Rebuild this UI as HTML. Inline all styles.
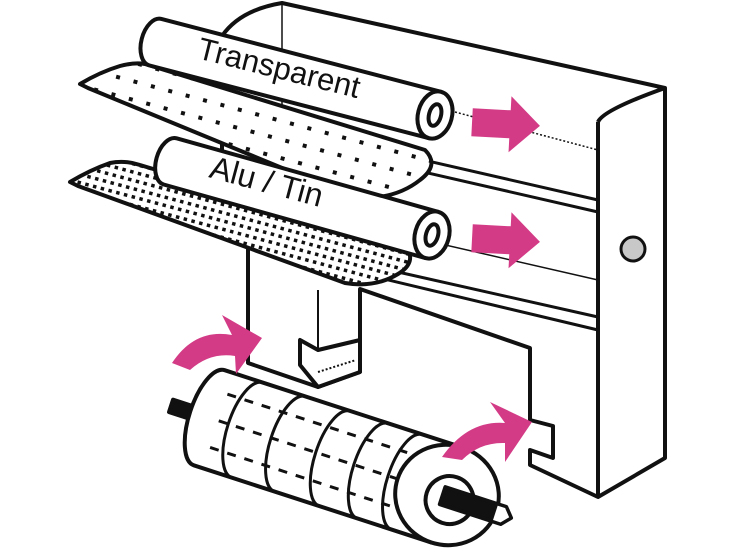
<!DOCTYPE html>
<html><head><style>html,body{margin:0;padding:0;background:#fff}svg{display:block}</style></head>
<body>
<svg width="736" height="552" viewBox="0 0 736 552" xmlns="http://www.w3.org/2000/svg">
<defs>
<pattern id="sp" width="18" height="18" patternUnits="userSpaceOnUse" patternTransform="rotate(15)"><rect width="18" height="18" fill="#fff"/><rect x="6" y="6" width="4" height="4" fill="#111"/></pattern>
<pattern id="dn" width="8" height="8" patternUnits="userSpaceOnUse" patternTransform="rotate(15)"><rect width="8" height="8" fill="#fff"/><rect x="2" y="2" width="3.5" height="3.5" fill="#111"/></pattern>
</defs>
<g fill="#fff" stroke="#111" stroke-width="4" stroke-linejoin="round">
<path d="M222,36 Q240,10 282,3 L665,88 L665,458 L598,497 L530,465 L530,450 L553,458 L553,426 L530,420 L530,348 L360,289 L360,372 L318,387 L248,363 L248,240 L222,230 Z"/>
<path d="M598,122 Q603,110 665,88" fill="none"/>
<line x1="598" y1="122" x2="598" y2="497"/>
<line x1="282" y1="3" x2="282" y2="240" stroke-width="1.5"/>
<path d="M380,150 L598,200 M380,162 L598,212" fill="none" stroke-width="3"/>
<path d="M380,268 L598,317 M380,278 L598,330" fill="none" stroke-width="3"/>
<path d="M380,230 L598,280" fill="none" stroke-width="1.5"/>
<path d="M455,112 L598,150" fill="none" stroke-width="1.5" stroke-dasharray="2,2"/>
<path d="M300,340 L300,365 L318,387 L360,372 L360,340 L318,350 Z"/>
<line x1="318" y1="372" x2="356" y2="360" stroke-width="2" stroke-dasharray="2,2"/>
<line x1="318" y1="290" x2="318" y2="350" stroke-width="2"/>
<path d="M80,84 Q100,72 120,66 Q135,62 145,64 L425,150 Q440,165 420,180 Q395,200 355,198 L88,88 Z" fill="url(#sp)"/>
<g transform="translate(435,115) rotate(14.6)">
<path d="M0,-24 L-289,-24 A14,24 0 0 0 -289,24 L0,24 Z" fill="#fff"/>
<ellipse cx="0" cy="0" rx="17" ry="24"/>
<ellipse cx="0" cy="0" rx="6" ry="11"/>
</g>
<path d="M70,182 Q90,170 110,163 Q125,160 140,165 L405,245 Q418,262 398,274 Q375,288 345,283 L78,186 Z" fill="url(#dn)"/>
<g transform="translate(432,235) rotate(15.7)">
<path d="M0,-24 L-272,-24 A14,24 0 0 0 -272,24 L0,24" fill="#fff"/>
<ellipse cx="0" cy="0" rx="17" ry="24"/>
<ellipse cx="0" cy="0" rx="6" ry="11"/>
</g>
<g transform="translate(447,495) rotate(18)">
<rect x="-290" y="-6" width="60" height="13" fill="#111"/>
<path d="M0,-50 L-250,-50 A20,50 0 0 0 -250,50 L0,50" fill="#fff"/>
<path d="M-210,-50 A20,50 0 0 0 -210,50 M-165,-50 A20,50 0 0 0 -165,50 M-118,-50 A20,50 0 0 0 -118,50 M-78,-50 A20,50 0 0 0 -78,50 M-42,-50 A20,50 0 0 0 -42,50" fill="none" stroke-width="3"/>
<path d="M-240,-28 L-30,-28 M-240,0 L-30,0 M-240,28 L-30,28" stroke-width="3" stroke-dasharray="9,9" fill="none"/>
<ellipse cx="0" cy="0" rx="52" ry="50"/>
<ellipse cx="4" cy="4" rx="24" ry="24"/>
<path d="M-4,-7 L60,-7 L68,2 L60,11 L-4,11 Z" fill="#111"/>
<path d="M50,-7 L60,-7 L68,2 L60,11 L50,11 Z" fill="#fff" stroke-width="3"/>
</g>
</g>
<g fill="#d33b86">
<path d="M472,110 L510,110 L510,96 L540,124 L510,152 L510,138 L472,138 Z" transform="rotate(3,505,124)"/>
<path d="M472,226 L510,226 L510,212 L540,240 L510,268 L510,254 L472,254 Z" transform="rotate(3,505,240)"/>
<path d="M172,363 Q195,328 232,335 L222,315 L262,338 L236,374 L235,356 Q210,352 190,370 Z"/>
<path d="M442,457 Q468,420 505,423 L490,402 L532,422 L505,462 L505,443 Q480,442 462,460 Z"/>
</g>
<circle cx="633" cy="249" r="12" fill="#c8c8c8" stroke="#111" stroke-width="3"/>
<text x="0" y="0" transform="translate(196,58) rotate(14)" font-family="Liberation Sans, sans-serif" font-size="31" fill="#111">Transparent</text>
<text x="0" y="0" transform="translate(208,177) rotate(15)" font-family="Liberation Sans, sans-serif" font-size="32" fill="#111">Alu / Tin</text>
</svg>
</body></html>
